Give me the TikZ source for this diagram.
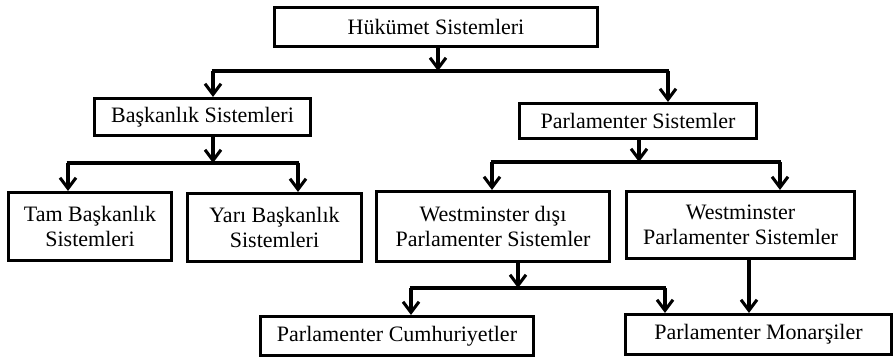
\documentclass[tikz,border=0pt]{standalone}
\usepackage{fontspec}
\setmainfont{Liberation Serif}
\usetikzlibrary{arrows.meta}
\begin{document}
\begin{tikzpicture}[x=0.75pt,y=-0.75pt,
  box/.style={draw,line width=2.3pt,inner sep=0pt,align=center,
    font=\fontsize{16.5}{18.5}\selectfont},
  conn/.style={line width=2.3pt},
  arr/.style={conn,-{Straight Barb[length=8pt,width=12pt,line width=2.3pt]}}]
\useasboundingbox (0,0) rectangle (895,363);
% nodes
\node[box,minimum width=242.25pt,minimum height=29.25pt] (hs) at (436,27) {Hükümet Sistemleri};
\node[box,minimum width=162pt,minimum height=27.75pt] (bs) at (202.5,117) {Başkanlık Sistemleri};
\node[box,minimum width=177.75pt,minimum height=26.25pt] (ps) at (638,121) {Parlamenter Sistemler};
\node[box,minimum width=122.25pt,minimum height=51pt] (tam) at (90,226.5) {Tam Başkanlık\\Sistemleri};
\node[box,minimum width=130.5pt,minimum height=51pt] (yari) at (274.5,227.5) {Yarı Başkanlık\\Sistemleri};
\node[box,minimum width=174.75pt,minimum height=52.5pt] (wd) at (493,226.5) {Westminster dışı\\Parlamenter Sistemler};
\node[box,minimum width=171pt,minimum height=50.25pt] (w) at (740.5,225) {Westminster\\Parlamenter Sistemler};
\node[box,minimum width=204.75pt,minimum height=29.25pt] (pc) at (397,336) {Parlamenter Cumhuriyetler};
\node[box,minimum width=199.5pt,minimum height=30pt] (pm) at (758.5,334.5) {Parlamenter Monarşiler};
% junctions
\coordinate (j1) at (438,71);
\coordinate (j1l) at (213,71);
\coordinate (j1r) at (668,71);
\coordinate (j2) at (213,163);
\coordinate (j2l) at (68,163);
\coordinate (j2r) at (298,163);
\coordinate (j3) at (639,162);
\coordinate (j3l) at (492,162);
\coordinate (j3r) at (780,162);
\coordinate (j4) at (518,288);
\coordinate (j4l) at (411,288);
\coordinate (j4r) at (665,288);
\coordinate (j5) at (749,0);
% connectors
\draw[arr] (hs.south -| j1) -- (j1);
\draw[conn] ([xshift=-1.1pt]j1l) -- ([xshift=1.1pt]j1r);
\draw[arr] (j1l) -- (j1l |- bs.north);
\draw[arr] (j1r) -- (j1r |- ps.north);
\draw[arr] (bs.south -| j2) -- (j2);
\draw[conn] ([xshift=-1.1pt]j2l) -- ([xshift=1.1pt]j2r);
\draw[arr] (j2l) -- (j2l |- tam.north);
\draw[arr] (j2r) -- (j2r |- yari.north);
\draw[arr] (ps.south -| j3) -- (j3);
\draw[conn] ([xshift=-1.1pt]j3l) -- ([xshift=1.1pt]j3r);
\draw[arr] (j3l) -- (j3l |- wd.north);
\draw[arr] (j3r) -- (j3r |- w.north);
\draw[arr] (wd.south -| j4) -- (j4);
\draw[conn] ([xshift=-1.1pt]j4l) -- ([xshift=1.1pt]j4r);
\draw[arr] (j4l) -- (j4l |- pc.north);
\draw[arr] (j4r) -- (j4r |- pm.north);
\draw[arr] (w.south -| j5) -- (j5 |- pm.north);
\end{tikzpicture}
\end{document}
